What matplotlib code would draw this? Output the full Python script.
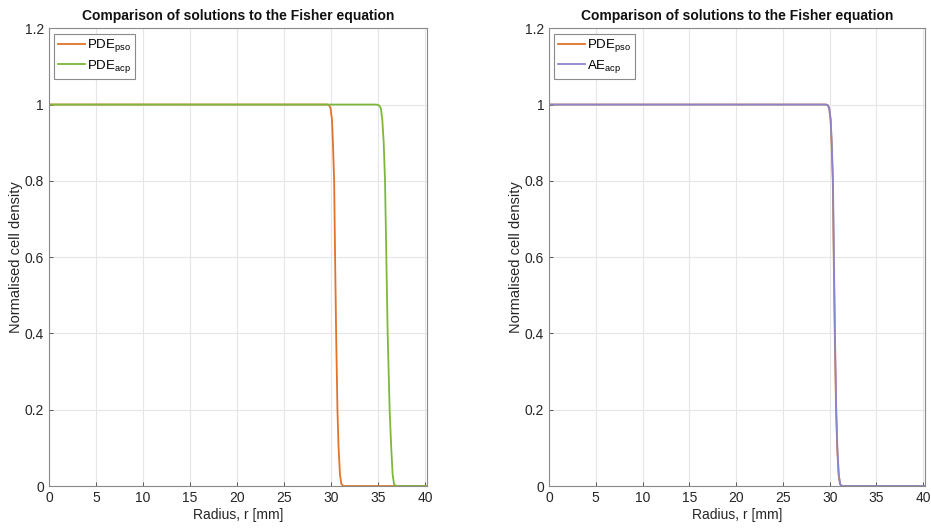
import numpy as np
import matplotlib
matplotlib.use("Agg")
import matplotlib.pyplot as plt

plt.rcParams["font.family"] = ["Liberation Sans", "DejaVu Sans"]
plt.rcParams["mathtext.fontset"] = "custom"
plt.rcParams["mathtext.rm"] = "Liberation Sans"
plt.rcParams["mathtext.it"] = "Liberation Sans"

# radius grid (mm) and density profiles at the final time
r_pso = [0, 29.6, 29.8, 29.95, 30.1, 30.2, 30.33, 30.43, 30.54, 30.68, 30.8, 30.95, 31.1, 31.3, 40.2]
u_pso = [1, 1, 0.998, 0.99, 0.96, 0.9, 0.8, 0.6, 0.4, 0.2, 0.1, 0.03, 0.005, 0, 0]

r_acp = [0, 34.8, 35.1, 35.3, 35.45, 35.6, 35.74, 35.88, 36.02, 36.23, 36.4, 36.55, 36.7, 36.9, 40.2]
u_acp = [1, 1, 0.998, 0.99, 0.96, 0.9, 0.8, 0.6, 0.4, 0.2, 0.1, 0.03, 0.005, 0, 0]

r_ae = [0, 29.6, 29.8, 29.95, 30.1, 30.22, 30.35, 30.45, 30.56, 30.7, 30.82, 30.97, 31.12, 31.32, 40.2]
u_ae = [1, 1, 0.998, 0.99, 0.96, 0.9, 0.8, 0.6, 0.4, 0.2, 0.1, 0.03, 0.005, 0, 0]

c_pso = "#E0742A"
c_acp = "#7DB83A"
c_ae = "#8B86CC"

fig = plt.figure(figsize=(9.31, 5.28), dpi=100)
ax1 = fig.add_axes([0.0526, 0.0795, 0.406, 0.867])
ax2 = fig.add_axes([0.5897, 0.0795, 0.404, 0.867])

ax1.plot(r_pso, u_pso, color=c_pso, lw=1.3, label=r"PDE$_{\mathrm{pso}}$")
ax1.plot(r_acp, u_acp, color=c_acp, lw=1.3, label=r"PDE$_{\mathrm{acp}}$")
ax2.plot(r_pso, u_pso, color=c_pso, lw=1.3, label=r"PDE$_{\mathrm{pso}}$")
ax2.plot(r_ae, u_ae, color=c_ae, lw=1.3, label=r"AE$_{\mathrm{acp}}$")

for ax in (ax1, ax2):
    ax.set_xlim(0, 40.2)
    ax.set_ylim(0, 1.2)
    ax.set_xticks(np.arange(0, 41, 5))
    ax.set_yticks([0, 0.2, 0.4, 0.6, 0.8, 1, 1.2])
    ax.set_yticklabels(["0", "0.2", "0.4", "0.6", "0.8", "1", "1.2"])
    ax.grid(True, color="#E6E6E6", lw=0.8)
    ax.set_axisbelow(True)
    for s in ax.spines.values():
        s.set_color("#8A8A8A")
        s.set_linewidth(0.8)
    ax.tick_params(direction="in", length=3, width=0.7, color="#555555",
                   labelsize=10, labelcolor="#262626", top=False, right=False)
    ax.set_xlabel("Radius, r [mm]", fontsize=10, color="#262626", labelpad=2)
    ax.set_ylabel("Normalised cell density", fontsize=10.5, color="#262626", labelpad=1)
    ax.set_title("Comparison of solutions to the Fisher equation", fontsize=10,
                 fontweight="bold", color="#111111", pad=6)
    leg = ax.legend(loc="upper left", fontsize=9.5, handlelength=2.0, handletextpad=0.2,
                    borderpad=0.3, labelspacing=0.25, fancybox=False, framealpha=1,
                    borderaxespad=0.4)
    leg.get_frame().set_edgecolor("#8A8A8A")
    leg.get_frame().set_linewidth(0.8)

fig.savefig("out.png", dpi=100)
